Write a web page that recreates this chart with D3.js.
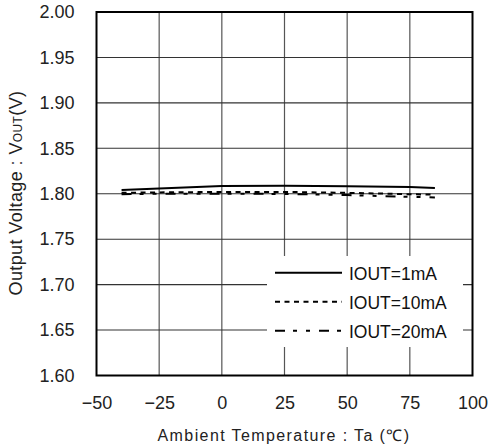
<!DOCTYPE html>
<html><head><meta charset="utf-8">
<script src="https://cdn.jsdelivr.net/npm/d3@7"></script>
<style>body{margin:0;background:#fff}svg{display:block}</style>
</head><body>
<script>
const temps = [-40, -25, 0, 25, 50, 75, 85];
const iout1mA  = [1.8042, 1.8058, 1.8085, 1.8088, 1.8082, 1.8074, 1.8063];
const iout10mA = [1.8010, 1.8015, 1.8020, 1.8020, 1.8010, 1.7995, 1.7990];
const iout20mA = [1.7995, 1.8000, 1.8000, 1.7998, 1.7985, 1.7965, 1.7960];
const seriesNames = ["IOUT=1mA", "IOUT=10mA", "IOUT=20mA"];
const xTicks = [-50, -25, 0, 25, 50, 75, 100];
const yTicks = [1.60, 1.65, 1.70, 1.75, 1.80, 1.85, 1.90, 1.95, 2.00];

const W = 488, H = 444;
const svg = d3.select("body").append("svg").attr("width", W).attr("height", H);
const x = d3.scaleLinear().domain([-50, 100]).range([96.5, 472.5]);
const y = d3.scaleLinear().domain([1.60, 2.00]).range([375.5, 12]);

// grid
svg.append("g").selectAll("line").data(xTicks.slice(1, -1)).join("line")
  .attr("x1", d => x(d)).attr("x2", d => x(d)).attr("y1", y(2.0)).attr("y2", y(1.6))
  .attr("stroke", "#555").attr("stroke-width", 1.2);
svg.append("g").selectAll("line").data(yTicks.slice(1, -1)).join("line")
  .attr("x1", x(-50)).attr("x2", x(100)).attr("y1", d => y(d)).attr("y2", d => y(d))
  .attr("stroke", "#333").attr("stroke-width", 1.1);

// axes labels via d3 axes
const xAxis = svg.append("g").attr("transform", `translate(0,${y(1.6)})`)
  .call(d3.axisBottom(x).tickValues(xTicks).tickSize(0).tickPadding(21)
    .tickFormat(d => d < 0 ? "\u2212" + Math.abs(d) : d));
xAxis.select(".domain").remove();
xAxis.selectAll("text").attr("font-family", "Liberation Sans, Arial, sans-serif")
  .attr("font-size", 18).attr("fill", "#222");

const yAxis = svg.append("g").attr("transform", `translate(${x(-50)},0)`)
  .call(d3.axisLeft(y).tickValues(yTicks).tickSize(0).tickPadding(22).tickFormat(d3.format(".2f")));
yAxis.select(".domain").remove();
yAxis.selectAll("text").attr("font-family", "Liberation Sans, Arial, sans-serif")
  .attr("font-size", 18).attr("fill", "#222");

// data lines
const line = d3.line().x((d, i) => x(temps[i])).y(d => y(d));
const styles = [
  {data: iout1mA, dash: null},
  {data: iout10mA, dash: "5,4.5"},
  {data: iout20mA, dash: "10,8,4,9,4,9"}
];
styles.forEach(s => {
  svg.append("path").datum(s.data).attr("d", line).attr("fill", "none")
    .attr("stroke", "#000").attr("stroke-width", 2)
    .attr("stroke-dasharray", s.dash);
});

// legend
const lg = svg.append("g");
lg.append("rect").attr("x", 267).attr("y", 256).attr("width", 196).attr("height", 91).attr("fill", "#fff");
const rowY = [272.7, 301.7, 330.7];
styles.forEach((s, i) => {
  lg.append("line").attr("x1", 275).attr("x2", 342).attr("y1", rowY[i]).attr("y2", rowY[i])
    .attr("stroke", "#000").attr("stroke-width", 2).attr("stroke-dasharray", s.dash);
  lg.append("text").attr("x", 349).attr("y", rowY[i] + 7).text(seriesNames[i])
    .attr("font-family", "Liberation Sans, Arial, sans-serif").attr("font-size", 17.5)
    .attr("fill", "#111");
});

// frame
svg.append("rect").attr("x", x(-50)).attr("y", y(2.0))
  .attr("width", x(100) - x(-50)).attr("height", y(1.6) - y(2.0))
  .attr("fill", "none").attr("stroke", "#000").attr("stroke-width", 2);

// titles
svg.append("text").attr("x", (x(-50) + x(100)) / 2 - 0.5).attr("y", 441)
  .attr("text-anchor", "middle").attr("font-family", "Liberation Sans, Arial, sans-serif")
  .attr("font-size", 16).attr("fill", "#222").attr("letter-spacing", 1.4)
  .text("Ambient Temperature : Ta (\u2103)");

const yt = svg.append("text").attr("transform", "translate(21.5,193) rotate(-90)")
  .attr("text-anchor", "middle").attr("font-family", "Liberation Sans, Arial, sans-serif")
  .attr("font-size", 18).attr("fill", "#222").attr("letter-spacing", 0.4);
yt.append("tspan").text("Output Voltage : V");
yt.append("tspan").attr("font-size", 12).text("OUT");
yt.append("tspan").text("(V)");
</script>
</body></html>
